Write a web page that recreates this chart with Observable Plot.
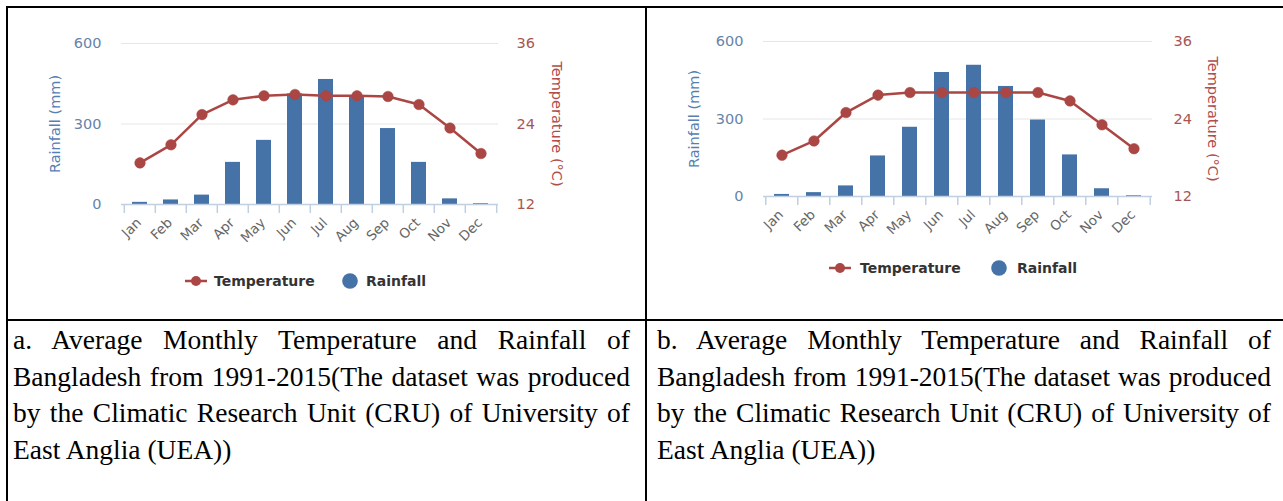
<!DOCTYPE html>
<html><head><meta charset="utf-8">
<script src="https://cdn.jsdelivr.net/npm/d3@7"></script>
<script src="https://cdn.jsdelivr.net/npm/@observablehq/plot@0.6"></script>
<style>
html,body{margin:0;padding:0;background:#fff;}
#page{position:relative;width:1283px;height:501px;overflow:hidden;background:#fff;}
.hline{position:absolute;height:2px;background:#000;}
.vline{position:absolute;width:2px;background:#000;}
.chart{position:absolute;}
.cap{position:absolute;font-family:"Liberation Serif","Times New Roman",serif;font-size:27.5px;color:#000;}
.cap div{height:36.5px;line-height:36.5px;white-space:nowrap;}
.cap .j{text-align:justify;text-align-last:justify;}
.leg{position:absolute;font-family:"DejaVu Sans",sans-serif;font-weight:bold;font-size:14px;color:#333;line-height:20px;height:20px;white-space:nowrap;}
</style></head><body><div id="page"></div>
<script>
// ---- data ----
const months = ["Jan","Feb","Mar","Apr","May","Jun","Jul","Aug","Sep","Oct","Nov","Dec"];
const rainA = [8, 17, 35, 157, 239, 412, 466, 399, 283, 157, 21, 3];
const tempA = [18.2, 20.9, 25.4, 27.6, 28.2, 28.4, 28.2, 28.2, 28.1, 26.9, 23.4, 19.6];
const rainB = [8, 15, 41, 157, 268, 480, 508, 426, 296, 161, 30, 3];
const tempB = [18.4, 20.6, 25.0, 27.7, 28.1, 28.1, 28.1, 28.1, 28.1, 26.8, 23.1, 19.4];
const rainTicks = [0, 300, 600];
const tempTicks = [12, 24, 36];
const rainTitle = "Rainfall (mm)";
const tempTitle = "Temperature (°C)";
const legendLabels = ["Temperature", "Rainfall"];
const captionA = [
  "a. Average Monthly Temperature and Rainfall of",
  "Bangladesh from 1991-2015(The dataset was produced",
  "by the Climatic Research Unit (CRU) of University of",
  "East Anglia (UEA))"
];
const captionB = [
  "b. Average Monthly Temperature and Rainfall of",
  "Bangladesh from 1991-2015(The dataset was produced",
  "by the Climatic Research Unit (CRU) of University of",
  "East Anglia (UEA))"
];

// ---- styles ----
const BLUE = "#4572A7", RED = "#AA4643";
const page = document.getElementById("page");

// temperature axis (12..36) shares the frame with the rainfall axis (0..600)
const tMin = tempTicks[0], tMax = tempTicks[tempTicks.length - 1];
const rMax = rainTicks[rainTicks.length - 1];
const toY = t => (t - tMin) / (tMax - tMin) * rMax;

function chart(rain, temp, o) {
  const data = months.map((m, i) => ({month: m, rain: rain[i], temp: temp[i]}));
  const W = o.width - o.ml - o.mr;
  const H = o.height - o.mt - o.mb;
  const step = W / months.length;
  const tickLen = 9 * rMax / H;
  const p = Plot.plot({
    width: o.width, height: o.height,
    marginLeft: o.ml, marginRight: o.mr, marginTop: o.mt, marginBottom: o.mb,
    style: {fontFamily: "DejaVu Sans, sans-serif", background: "transparent", overflow: "visible"},
    x: {type: "band", domain: months, paddingInner: 0.53, paddingOuter: 0.265},
    y: {domain: [0, rMax], axis: null},
    marks: [
      Plot.ruleY(rainTicks.filter(d => d > 0), {y: d => d, stroke: "#e6e6e6", strokeWidth: 1}),
      Plot.barY(data, {x: "month", y: "rain", fill: BLUE}),
      Plot.ruleY([0], {stroke: "#C0D0E0", strokeWidth: 1.5}),
      Plot.ruleX(months, {x: d => d, y1: 0, y2: -tickLen, dx: -step / 2, stroke: "#C0D0E0", strokeWidth: 1.5}),
      Plot.ruleX(months.slice(-1), {x: d => d, y1: 0, y2: -tickLen, dx: step / 2, stroke: "#C0D0E0", strokeWidth: 1.5}),
      Plot.axisX({tickSize: 0, tickRotate: -45, tickPadding: 16, dx: -1, fontSize: 13.5, fill: "#666", label: null}),
      Plot.text(rainTicks, {y: d => d, text: d => String(d), frameAnchor: "left", textAnchor: "end", dx: -20, fontSize: 14.5, fill: "#6684aa"}),
      Plot.text(tempTicks, {y: d => toY(d), text: d => String(d), frameAnchor: "right", textAnchor: "start", dx: o.rdx, fontSize: 14.5, fill: "#a85552"}),
      Plot.text([rainTitle], {text: d => d, frameAnchor: "left", textAnchor: "middle", rotate: -90, dx: o.ltx, fontSize: 14.5, fill: "#5580b2"}),
      Plot.text([tempTitle], {text: d => d, frameAnchor: "right", textAnchor: "middle", rotate: 90, dx: o.rtx, fontSize: 14.5, fill: "#b04e4b"}),
      Plot.line(data, {x: "month", y: d => toY(d.temp), stroke: RED, strokeWidth: 2.5}),
      Plot.dot(data, {x: "month", y: d => toY(d.temp), r: 5.3, fill: RED, stroke: RED, strokeWidth: 0.5})
    ]
  });
  p.classList.add("chart");
  p.style.left = o.left + "px";
  p.style.top = o.top + "px";
  page.appendChild(p);
}

chart(rainA, tempA, {left: 8, top: 8, width: 636, height: 260, ml: 113, mr: 146, mt: 35, mb: 64, rdx: 18, ltx: -66, rtx: 58});
chart(rainB, tempB, {left: 648, top: 8, width: 634, height: 260, ml: 115, mr: 130, mt: 33, mb: 72, rdx: 21, ltx: -69.5, rtx: 60});

function legend(cy, lineL, textL, circC, text2L) {
  const sw = document.createElementNS("http://www.w3.org/2000/svg", "svg");
  sw.setAttribute("width", 24); sw.setAttribute("height", 12);
  sw.style.position = "absolute"; sw.style.left = lineL + "px"; sw.style.top = (cy - 6) + "px";
  sw.innerHTML = `<line x1="0" y1="6" x2="22" y2="6" stroke="${RED}" stroke-width="2.5"/><circle cx="11" cy="6" r="5" fill="${RED}"/>`;
  page.appendChild(sw);
  const t1 = document.createElement("div");
  t1.className = "leg"; t1.textContent = legendLabels[0];
  t1.style.left = textL + "px"; t1.style.top = (cy - 10) + "px";
  page.appendChild(t1);
  const c = document.createElementNS("http://www.w3.org/2000/svg", "svg");
  c.setAttribute("width", 18); c.setAttribute("height", 18);
  c.style.position = "absolute"; c.style.left = (circC - 9) + "px"; c.style.top = (cy - 9) + "px";
  c.innerHTML = `<circle cx="9" cy="9" r="7.8" fill="${BLUE}"/>`;
  page.appendChild(c);
  const t2 = document.createElement("div");
  t2.className = "leg"; t2.textContent = legendLabels[1];
  t2.style.left = text2L + "px"; t2.style.top = (cy - 10) + "px";
  page.appendChild(t2);
}
legend(281, 185, 214, 350, 366);
legend(268, 829, 860, 999, 1017);

// table borders
function line(cls, l, t, w, h) {
  const d = document.createElement("div");
  d.className = cls; d.style.left = l + "px"; d.style.top = t + "px";
  if (w) d.style.width = w + "px";
  if (h) d.style.height = h + "px";
  page.appendChild(d);
}
line("hline", 6, 6, 1277, 0);
line("hline", 6, 319, 1277, 0);
line("vline", 6, 6, 0, 495);
line("vline", 645, 6, 0, 495);

function caption(lines, left, width) {
  const c = document.createElement("div");
  c.className = "cap";
  c.style.left = left + "px"; c.style.top = "322px"; c.style.width = width + "px";
  lines.forEach((s, i) => {
    const d = document.createElement("div");
    d.textContent = s;
    if (i < lines.length - 1) d.className = "j";
    c.appendChild(d);
  });
  page.appendChild(c);
}
caption(captionA, 13, 617);
caption(captionB, 657, 614);
</script></body></html>
